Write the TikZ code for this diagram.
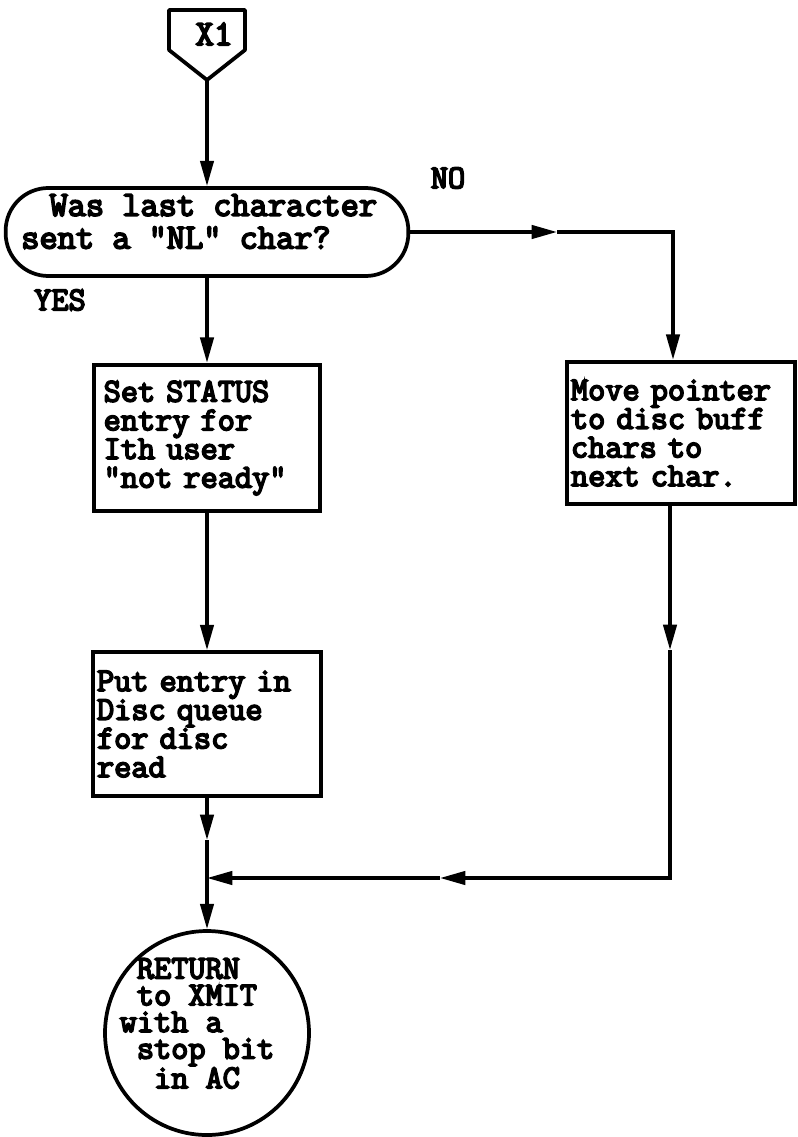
\documentclass[tikz,border=0pt]{standalone}
\usepackage{fontspec}
\newfontfamily\tw{Latin Modern Mono}[FakeBold=5]
\usetikzlibrary{arrows.meta,calc}
\begin{document}
\begin{tikzpicture}[x=0.75pt,y=-0.75pt,
  every node/.style={font=\tw\fontsize{25}{21.5}\selectfont},
  ln/.style={line width=2.5pt},
  arr/.style={ln,-{Triangle[length=19pt,width=10pt]}},
  box/.style={draw,line width=2.8pt,rectangle,align=left,inner sep=0pt},
  lbl/.style={inner sep=0pt}
]
\useasboundingbox (0,0) rectangle (797,1137);
% off-page connector
\draw[line width=2.8pt,line join=round] (169,10) -- (245,10) -- (245,50) -- (207,80) -- (169,50) -- cycle;
\node[lbl,font=\tw\fontsize{27}{24}\selectfont] (x1) at (214,34) {X1};
\coordinate (x1tip) at (207,80);
% decision
\node[draw,line width=2.8pt,rounded corners=32pt,minimum width=302pt,minimum height=66pt,inner sep=0pt] (dec) at (207,232) {};
\node[lbl,align=left,anchor=north west,font=\tw\fontsize{26.5}{24.5}\selectfont] (dectxt) at (21,194) {\hspace*{0.8em}Was last character\\sent a "NL" char?};
% boxes
\node[box,minimum width=170pt,minimum height=110pt,text width=155pt] (set) at (207,438) {Set STATUS\\entry for\\Ith user\\"not ready"};
\node[box,minimum width=171pt,minimum height=108pt,text width=165pt] (put) at (207,724) {Put entry in\\Disc queue\\for disc\\read};
\node[box,minimum width=171pt,minimum height=107pt,text width=165pt] (move) at (681,433) {Move pointer\\to disc buff\\chars to\\next char.};
% terminal circle
\node[draw,circle,line width=2.8pt,minimum size=153pt,inner sep=0pt] (ret) at (207,1033) {};
\node[align=left,lbl,anchor=north,font=\tw\fontsize{25}{20}\selectfont] (rettxt) at (197,958) {\phantom{w}RETURN\\\phantom{w}to XMIT\\with a\\\phantom{w}stop bit\\\phantom{ww}in AC};
% labels
\node[lbl] (no) at (448,178) {NO};
\node[lbl] (yes) at (60,300) {YES};
% coordinates
\coordinate (na) at (557,232);
\coordinate (nc) at (673,232);
\coordinate (ra) at (670,650);
\coordinate (rc) at (670,878);
\coordinate (ha) at (440,878);
\coordinate (j) at (207,878);
\coordinate (la) at (207,840);
% connectors
\draw[arr] (x1tip) -- (dec.north);
\draw[arr] (dec.south) -- (set.north);
\draw[arr] (set.south) -- (put.north);
\draw[arr] (put.south) -- (la);
\draw[ln] (la) -- (j);
\draw[arr] (j) -- (ret.north);
\draw[arr] (dec.east) -- (na);
\draw[arr,line join=miter] (na) -- (nc) -- (move.north -| nc);
\draw[arr] (move.south -| ra) -- (ra);
\draw[arr,line join=miter] (ra) -- (rc) -- (ha);
\draw[arr] (ha) -- (j);
\end{tikzpicture}
\end{document}
